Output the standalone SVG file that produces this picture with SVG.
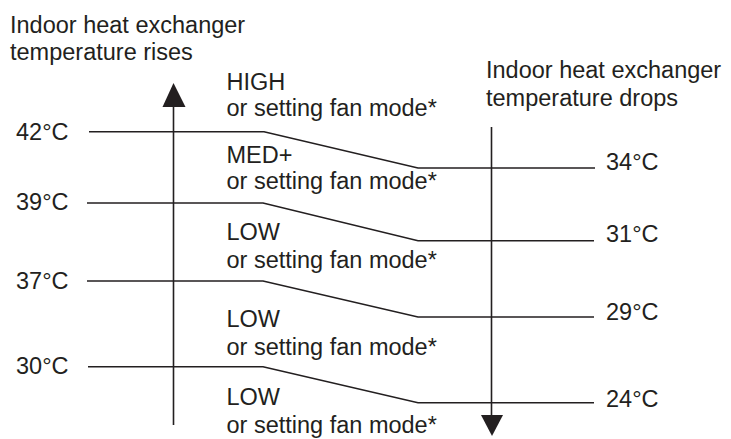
<svg xmlns="http://www.w3.org/2000/svg" width="731" height="439" viewBox="0 0 731 439">
  <style>
    text { font-family: "Liberation Sans", Arial, sans-serif; font-size: 23.5px; fill: #231f20; }
    .ln { fill: none; stroke: #231f20; stroke-width: 1.6; }
    .ah { fill: #231f20; stroke: none; }
  </style>
  <rect width="731" height="439" fill="#ffffff"/>
  <g id="header-left">
    <text x="10" y="33">Indoor heat exchanger</text>
    <text x="10" y="60">temperature rises</text>
  </g>
  <g id="header-right">
    <text x="486" y="78">Indoor heat exchanger</text>
    <text x="486" y="106">temperature drops</text>
  </g>
  <g id="connectors">
    <line class="ln" x1="173.5" y1="104" x2="173.5" y2="425"/>
    <polygon class="ah" points="173.5,83 162.5,107 185.5,107"/>
    <line class="ln" x1="491.5" y1="127" x2="491.5" y2="416"/>
    <polygon class="ah" points="481,415 503,415 492,436"/>
    <polyline class="ln" points="89,131.7 264,131.7 418,168 595,168"/>
    <polyline class="ln" points="87,203 263,203 418,240.7 594,240.7"/>
    <polyline class="ln" points="87,281 263,281 418,317 594,317"/>
    <polyline class="ln" points="88,366.7 263,366.7 418,402.7 594,402.7"/>
  </g>
  <g id="left-temps">
    <text x="16" y="139.5">42°C</text>
    <text x="16" y="210">39°C</text>
    <text x="16" y="289">37°C</text>
    <text x="16" y="374">30°C</text>
  </g>
  <g id="right-temps">
    <text x="606" y="170">34°C</text>
    <text x="606" y="242">31°C</text>
    <text x="606" y="320">29°C</text>
    <text x="606" y="407">24°C</text>
  </g>
  <g id="mode-high">
    <text x="226.5" y="90">HIGH</text>
    <text x="226.5" y="116">or setting fan mode*</text>
  </g>
  <g id="mode-medplus">
    <text x="226.5" y="163">MED+</text>
    <text x="226.5" y="189">or setting fan mode*</text>
  </g>
  <g id="mode-low-1">
    <text x="226.5" y="240">LOW</text>
    <text x="226.5" y="268">or setting fan mode*</text>
  </g>
  <g id="mode-low-2">
    <text x="226.5" y="327">LOW</text>
    <text x="226.5" y="355">or setting fan mode*</text>
  </g>
  <g id="mode-low-3">
    <text x="226.5" y="405">LOW</text>
    <text x="226.5" y="433">or setting fan mode*</text>
  </g>
</svg>
